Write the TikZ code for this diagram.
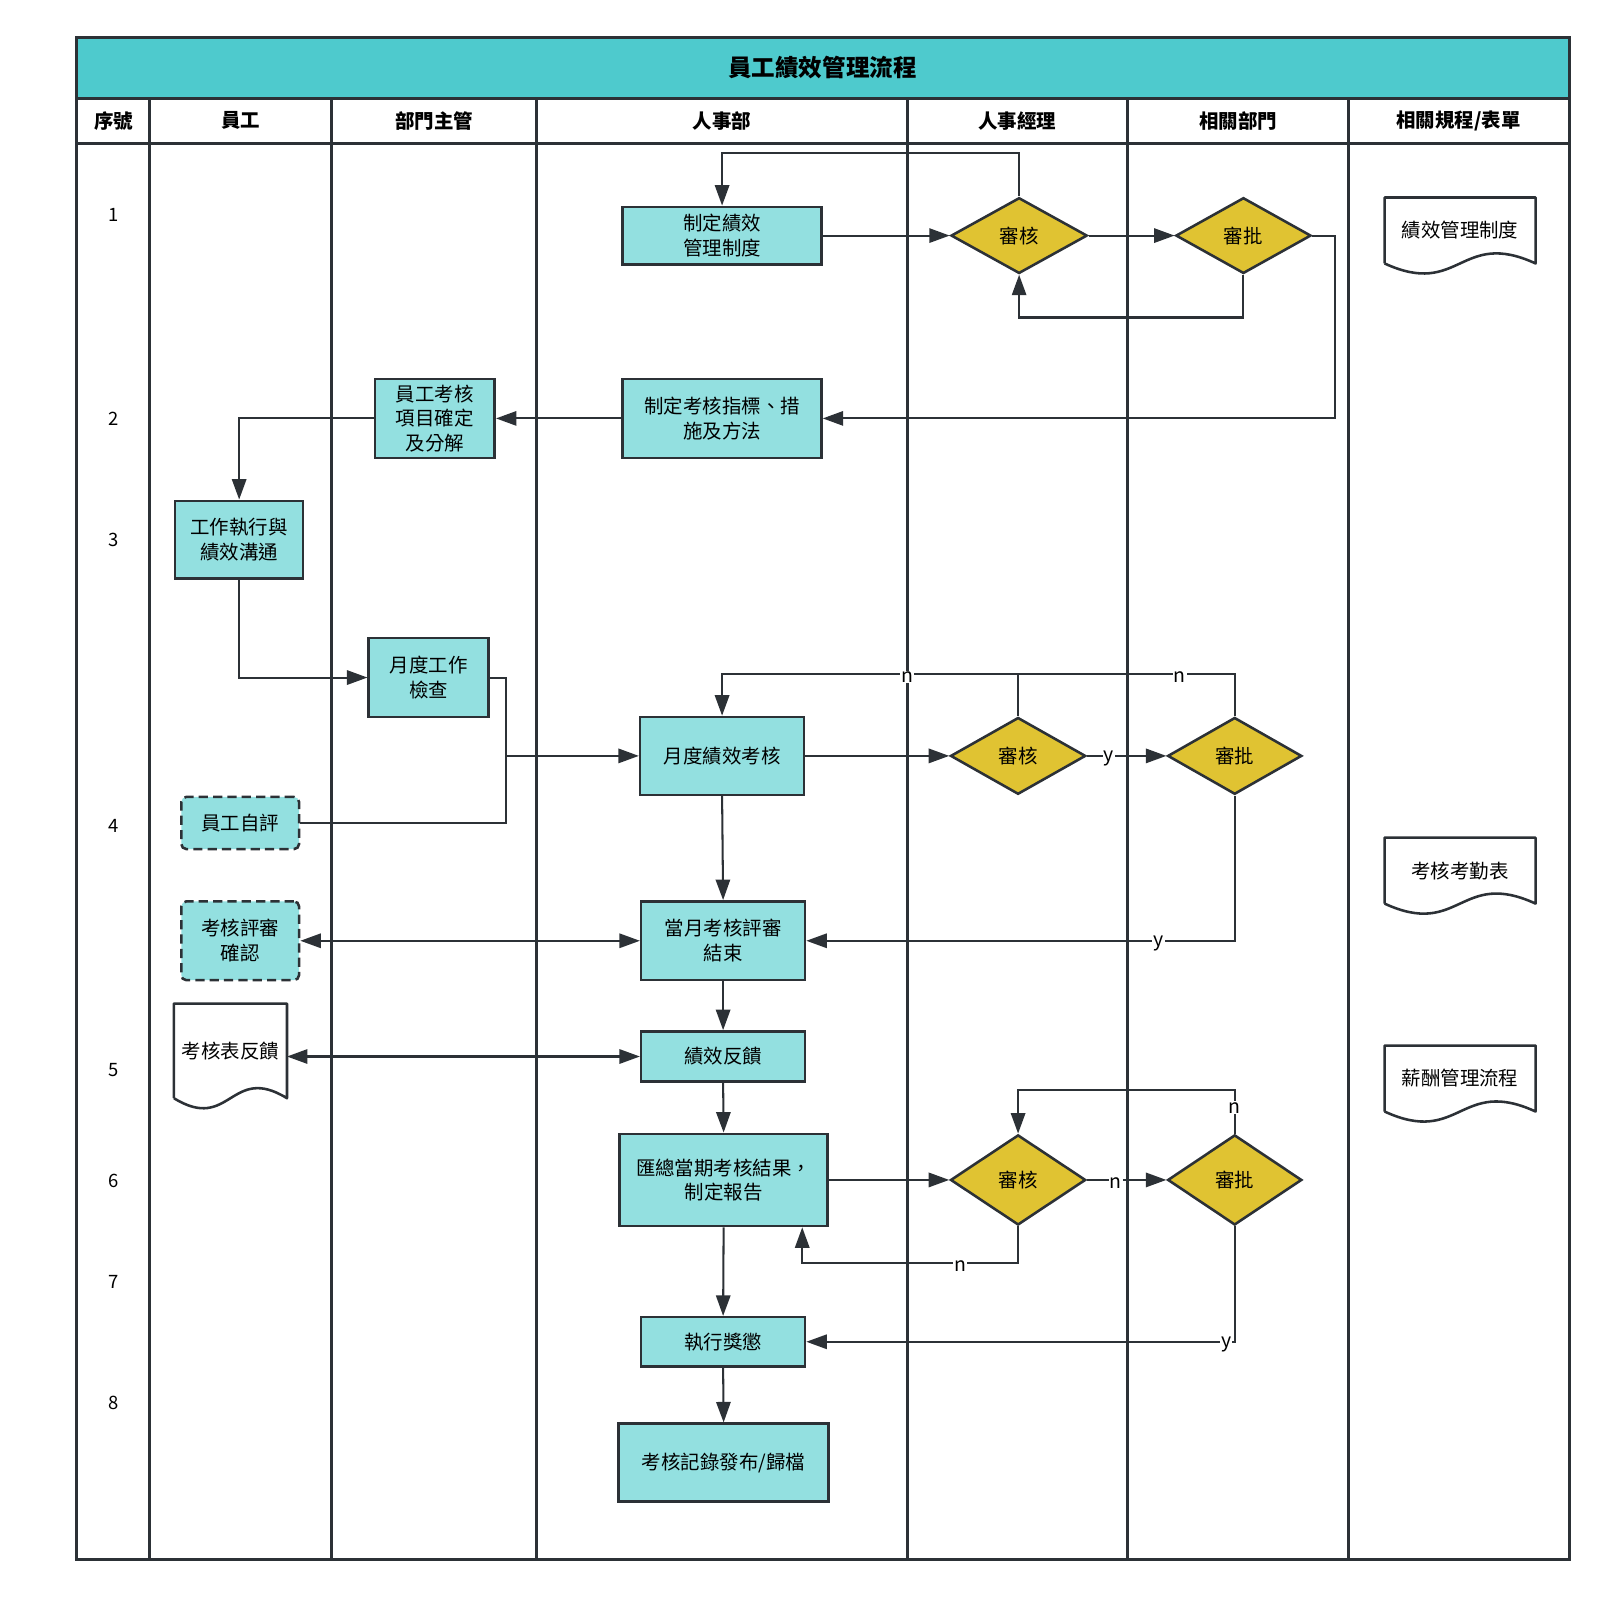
\documentclass[tikz,border=0pt]{standalone}
\usepackage{fontspec}
\setmainfont{Noto Sans CJK TC}
\usepackage{tikz}
\usetikzlibrary{shapes.geometric, arrows.meta, positioning, calc}
\definecolor{lanegray}{RGB}{44, 49, 54}
\definecolor{titleteal}{RGB}{78, 202, 205}
\definecolor{boxteal}{RGB}{147, 224, 224}
\definecolor{checkgold}{RGB}{224, 195, 50}
\newcommand{\boxfont}{\fontsize{19}{24}\selectfont}
\newcommand{\titlefont}{\fontsize{23}{28}\selectfont\bfseries}
\newcommand{\headfont}{\fontsize{19}{24}\selectfont\bfseries}
\newcommand{\numfont}{\fontsize{18}{22}\selectfont}
\newcommand{\lblfont}{\fontsize{19}{20}\selectfont}
\tikzstyle{lane} = [draw=lanegray, line width=3pt]
\tikzstyle{process} = [rectangle, draw=lanegray, fill=boxteal, line width=2.5pt, align=center, inner sep=0pt, font=\boxfont]
\tikzstyle{selfbox} = [process, rounded corners=5pt, dash pattern=on 9pt off 5pt]
\tikzstyle{decision} = [diamond, draw=lanegray, fill=checkgold, line width=2.5pt, inner sep=0pt, font=\boxfont]
\tikzstyle{docnode} = [rectangle, inner sep=0pt, align=center, font=\boxfont]
\tikzstyle{arrow} = [-{Triangle[length=20pt, width=14pt]}, line width=2pt, draw=lanegray]
\tikzstyle{twoway} = [{Triangle[length=20pt, width=14pt]}-{Triangle[length=20pt, width=14pt]}, line width=2pt, draw=lanegray]
\tikzstyle{link} = [line width=2pt, draw=lanegray]
\tikzstyle{yn} = [fill=white, inner sep=1pt, yshift=-3pt, font=\lblfont]
% paper form with wavy bottom round a text node
\newcommand{\docoutline}[1]{%
  \draw[draw=lanegray, line width=2.5pt, line join=round] (#1.south west) -- (#1.north west) -- (#1.north east) -- (#1.south east)
    .. controls ($(#1.south)+(0,-34)$) and ($(#1.south)+(0,34)$) .. (#1.south west);}

\begin{document}
\begin{tikzpicture}[x=1pt, y=-1pt]
    \useasboundingbox (0,0) rectangle (1568,1559);

    % Frame, title band and lanes
    \fill[titleteal] (75,37) rectangle (1532,96);
    \draw[lane] (75,37) rectangle (1532,1523);
    \draw[lane] (75,96) -- (1532,96);
    \draw[lane] (75,140) -- (1532,140);
    \foreach \x in {146,324,524,886,1101,1317} {
        \draw[lane] (\x,96) -- (\x,1523);
    }
    \node[font=\titlefont] (title) at (803,66) {員工績效管理流程};

    % Lane headers
    \foreach \x/\head in {111/序號, 235/員工, 424/部門主管, 705/人事部, 993/人事經理, 1209/相關部門, 1424/{相關規程/表單}} {
        \node[font=\headfont] (h\x) at (\x,118) {\head};
    }

    % Step numbers
    \foreach \y/\num in {210/1, 409/2, 527/3, 806/4, 1045/5, 1153/6, 1252/7, 1370/8} {
        \node[font=\numfont] (r\num) at (111,\y) {\num};
    }

    % Step 1
    \node[process, minimum width=194, minimum height=56] (plan) at (705,230) {制定績效\\管理制度};
    \node[decision, minimum width=133, minimum height=74] (check1) at (995,230) {審核};
    \node[decision, minimum width=132, minimum height=74] (appr1) at (1214,230) {審批};
    \node[docnode, minimum width=147, minimum height=64] (doc1) at (1425.5,225) {績效管理制度};
    \docoutline{doc1}

    % Step 2 and 3
    \node[process, minimum width=194, minimum height=77] (index) at (705,408.5) {制定考核指標、措\\施及方法};
    \node[process, minimum width=117, minimum height=77] (items) at (424.5,408.5) {員工考核\\項目確定\\及分解};
    \node[process, minimum width=125, minimum height=76] (work) at (233.5,527) {工作執行與\\績效溝通};

    % Step 4
    \node[process, minimum width=117, minimum height=77] (mcheck) at (418.5,661.5) {月度工作\\檢查};
    \node[process, minimum width=160, minimum height=76] (mreview) at (705,738) {月度績效考核};
    \node[decision, minimum width=132, minimum height=75] (check2) at (994,738) {審核};
    \node[decision, minimum width=131, minimum height=75] (appr2) at (1205.5,738) {審批};
    \node[selfbox, minimum width=115, minimum height=51] (selfeval) at (234.5,803.5) {員工自評};
    \node[docnode, minimum width=147, minimum height=64] (doc2) at (1425.5,850) {考核考勤表};
    \docoutline{doc2}
    \node[selfbox, minimum width=115, minimum height=77] (confirm) at (234.5,918.5) {考核評審\\確認};
    \node[process, minimum width=160, minimum height=77] (mclose) at (706,918.5) {當月考核評審\\結束};

    % Step 5
    \node[docnode, minimum width=110, minimum height=92] (doc4) at (225,1026) {考核表反饋};
    \docoutline{doc4}
    \node[process, minimum width=160, minimum height=49] (feedback) at (706,1031.5) {績效反饋};
    \node[docnode, minimum width=147, minimum height=64] (doc3) at (1425.5,1053) {薪酬管理流程};
    \docoutline{doc3}

    % Step 6 to 8
    \node[process, minimum width=203, minimum height=90] (report) at (706.5,1152) {匯總當期考核結果，\\制定報告};
    \node[decision, minimum width=132, minimum height=88] (check3) at (994,1152) {審核};
    \node[decision, minimum width=131, minimum height=88] (appr3) at (1205.5,1152) {審批};
    \node[process, minimum width=160, minimum height=48] (reward) at (706,1310) {執行獎懲};
    \node[process, minimum width=205, minimum height=76] (archive) at (706.5,1428) {考核記錄發布/歸檔};

    \coordinate (join4) at (494,738);

    % Connectors
    \draw[arrow] (check1.north) -- (check1.north |- 0,149) -| (plan.north);
    \draw[arrow] (plan.east) -- (check1.west);
    \draw[arrow] (check1.east) -- (appr1.west);
    \draw[arrow] (appr1.south) -- (appr1.south |- 0,310) -| (check1.south);
    \draw[arrow] (appr1.east) -- ++(22,0) |- (index.east);
    \draw[arrow] (index.west) -- (items.east);
    \draw[arrow] (items.west) -| (work.north);
    \draw[arrow] (work.south) |- (mcheck.west);
    \draw[arrow] (mcheck.east) -| (join4) -- (mreview.west);
    \draw[link] (selfeval.east) -| (join4);
    \draw[arrow] (mreview.east) -- (check2.west);
    \draw[arrow] (check2.east) -- node[yn, pos=0.275] {y} (appr2.west);
    \draw[arrow] (check2.north) -- (check2.north |- 0,658) -| node[yn, pos=0.187] {n} (mreview.north);
    \draw[link] (appr2.north) -- (appr2.north |- 0,658) -- node[yn, pos=0.253] {n} (check2.north |- 0,658);
    \draw[arrow] (appr2.south) |- node[yn, pos=0.589] {y} (mclose.east);
    \draw[arrow] (mreview.south) -- (mclose.north);
    \draw[twoway] (confirm.east) -- (mclose.west);
    \draw[arrow] (mclose.south) -- (feedback.north);
    \draw[twoway] (feedback.west -| doc4.east) -- (feedback.west);
    \draw[arrow] (feedback.south) -- (report.north);
    \draw[arrow] (report.east) -- (check3.west);
    \draw[arrow] (check3.east) -- node[yn, pos=0.36] {n} (appr3.west);
    \draw[arrow] (appr3.north) -- node[yn, pos=0.66] {n} (appr3.north |- 0,1064) -| (check3.north);
    \draw[arrow] (check3.south) -- (check3.south |- 0,1233) -| node[yn, pos=0.134] {n} ([xshift=-26pt]report.south east);
    \draw[arrow] (report.south) -- (reward.north);
    \draw[arrow] (appr3.south) |- node[yn, pos=0.51] {y} (reward.east);
    \draw[arrow] (reward.south) -- (archive.north);
\end{tikzpicture}
\end{document}
